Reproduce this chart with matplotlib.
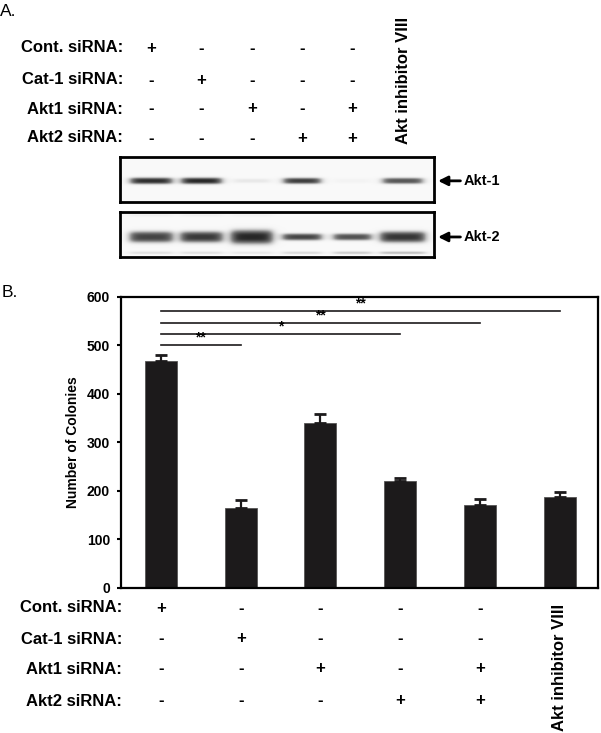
import matplotlib
matplotlib.use("Agg")
import matplotlib.pyplot as plt
import numpy as np
from matplotlib.transforms import blended_transform_factory

plt.rcParams["font.family"] = ["Liberation Sans", "DejaVu Sans"]
plt.rcParams["axes.unicode_minus"] = False

W, H = 601, 733

# treatment table (first five lanes, sixth lane is the inhibitor)
conditions = ["Cont. siRNA:", "Cat-1 siRNA:", "Akt1 siRNA:", "Akt2 siRNA:"]
treatment = [
    ["+", "-", "-", "-", "-"],
    ["-", "+", "-", "-", "-"],
    ["-", "-", "+", "-", "+"],
    ["-", "-", "-", "+", "+"],
]
inhibitor_label = "Akt inhibitor VIII"

# panel B: colony counts
colonies = [468, 164, 340, 221, 171, 188]
colonies_err = [12, 17, 19, 5, 11, 9]

# significance brackets from lane 0 to lane sig_to
sig_to = [1, 3, 4, 5]
sig_y = [501, 524, 546, 570]
sig_text = ["**", "*", "**", "**"]

# panel A: western blot band strength per lane (0 = none, 1 = saturated)
akt1_level = [0.80, 0.82, 0.12, 0.76, 0.05, 0.68]
akt1_width = [0.83, 0.80, 0.74, 0.74, 0.70, 0.80]
akt1_thick = [0.075, 0.075, 0.05, 0.07, 0.05, 0.07]
akt2_level = [0.74, 0.77, 0.82, 0.74, 0.70, 0.78]
akt2_width = [0.86, 0.84, 0.83, 0.78, 0.76, 0.90]
akt2_thick = [0.13, 0.13, 0.165, 0.08, 0.08, 0.13]
akt2_lower = [0.16, 0.16, 0.12, 0.20, 0.26, 0.32]


def px(x, y):
    return x / W, 1 - y / H


def blot_image(bands):
    xs = np.linspace(-0.615, 5.615, 500)
    ys = np.linspace(0, 1, 120)
    X, Y = np.meshgrid(xs, ys)
    img = np.full(X.shape, 0.05)
    for yc, levels, widths, thick in bands:
        for i, (lv, w, t) in enumerate(zip(levels, widths, thick)):
            fx = 1 / (1 + np.exp((np.abs(X - i) - w / 2) / 0.05))
            fy = np.exp(-(np.abs(Y - yc) / t) ** 3)
            img += lv * fx * fy
    return np.clip(img, 0, 1)


def blot_axes(fig, top, bottom, bands, label):
    x0, y1 = px(120, top)
    x1, y0 = px(434, bottom)
    ax = fig.add_axes([x0, y0, x1 - x0, y1 - y0])
    ax.imshow(blot_image(bands), cmap="Greys", vmin=0, vmax=1,
              extent=(-0.615, 5.615, 1, 0), aspect="auto", interpolation="bilinear")
    ax.set_xlim(-0.615, 5.615)
    ax.set_ylim(1, 0)
    ax.set_xticks([])
    ax.set_yticks([])
    for s in ax.spines.values():
        s.set_linewidth(2)
    yc = bands[0][0]
    ax.annotate(label, xy=(1.013, yc), xycoords=("axes fraction", "data"),
                xytext=(1.093, yc), textcoords=("axes fraction", "data"),
                ha="left", va="center", fontsize=10.5, fontweight="bold",
                annotation_clip=False,
                arrowprops=dict(arrowstyle="-|>", color="black", lw=2,
                                mutation_scale=14, shrinkA=0, shrinkB=0))
    return ax


fig = plt.figure(figsize=(W / 100, H / 100), dpi=100)

# ---------------- panel A ----------------
fig.text(*px(0, 11), "A.", fontsize=12.5, ha="left", va="center")

ax_a1 = blot_axes(fig, 157, 202,
                  [(0.53, akt1_level, akt1_width, akt1_thick)], "Akt-1")
ax_a2 = blot_axes(fig, 212, 257,
                  [(0.555, akt2_level, akt2_width, akt2_thick),
                   (0.91, akt2_lower, akt2_width, [0.03] * 6),
                   (0.07, [0.08, 0.08, 0.06, 0.0, 0.0, 0.0], akt2_width, [0.03] * 6)],
                  "Akt-2")

trans_a = blended_transform_factory(ax_a1.transData, fig.transFigure)
for row, (name, signs) in enumerate(zip(conditions, treatment)):
    yrow = [48, 80, 109, 138][row]
    fig.text(*px(123, yrow), name, fontsize=12, fontweight="bold", ha="right", va="center")
    for lane, s in enumerate(signs):
        fig.text(lane, px(0, yrow)[1], s, transform=trans_a, fontsize=12,
                 fontweight="bold", ha="center", va="center")
fig.text(5, px(0, 80)[1], inhibitor_label, transform=trans_a, rotation=90,
         fontsize=12, fontweight="bold", ha="center", va="center")

# ---------------- panel B ----------------
x0, y1 = px(121, 296.7)
x1, y0 = px(598, 587.7)
ax = fig.add_axes([x0, y0, x1 - x0, y1 - y0])
lanes = np.arange(len(colonies))
ax.bar(lanes, colonies, width=0.4, color="#1c1a1b", edgecolor="#555555", linewidth=0.6,
       yerr=[np.zeros(len(colonies)), colonies_err],
       error_kw=dict(ecolor="#1c1a1b", elinewidth=1.6, capsize=4.5, capthick=2))
ax.set_xlim(-0.5, 5.48)
ax.set_ylim(0, 600)
ax.set_yticks(range(0, 601, 100))
ax.set_xticks([])
ax.tick_params(axis="y", length=3, width=1.5, pad=5, labelsize=10)
for lbl in ax.get_yticklabels():
    lbl.set_fontweight("bold")
for s in ax.spines.values():
    s.set_linewidth(1.6)

for end, yv, txt in zip(sig_to, sig_y, sig_text):
    ax.plot([0, end], [yv, yv], color="#1c1a1b", lw=1.2)
    ax.text(end / 2, yv + 1, txt, ha="center", va="bottom", fontsize=10, fontweight="bold")

fig.text(*px(73, 442), "Number of Colonies", rotation=90, fontsize=10,
         fontweight="bold", ha="center", va="center")
fig.text(*px(2, 292), "B.", fontsize=12.5, ha="left", va="center")

trans_b = blended_transform_factory(ax.transData, fig.transFigure)
for row, (name, signs) in enumerate(zip(conditions, treatment)):
    yrow = [608, 639, 669, 701][row]
    fig.text(*px(122, yrow), name, fontsize=12, fontweight="bold", ha="right", va="center")
    for lane, s in enumerate(signs):
        fig.text(lane, px(0, yrow)[1], s, transform=trans_b, fontsize=12,
                 fontweight="bold", ha="center", va="center")
fig.text(5, px(0, 667)[1], inhibitor_label, transform=trans_b, rotation=90,
         fontsize=12, fontweight="bold", ha="center", va="center")

fig.savefig("out.png", dpi=100)
